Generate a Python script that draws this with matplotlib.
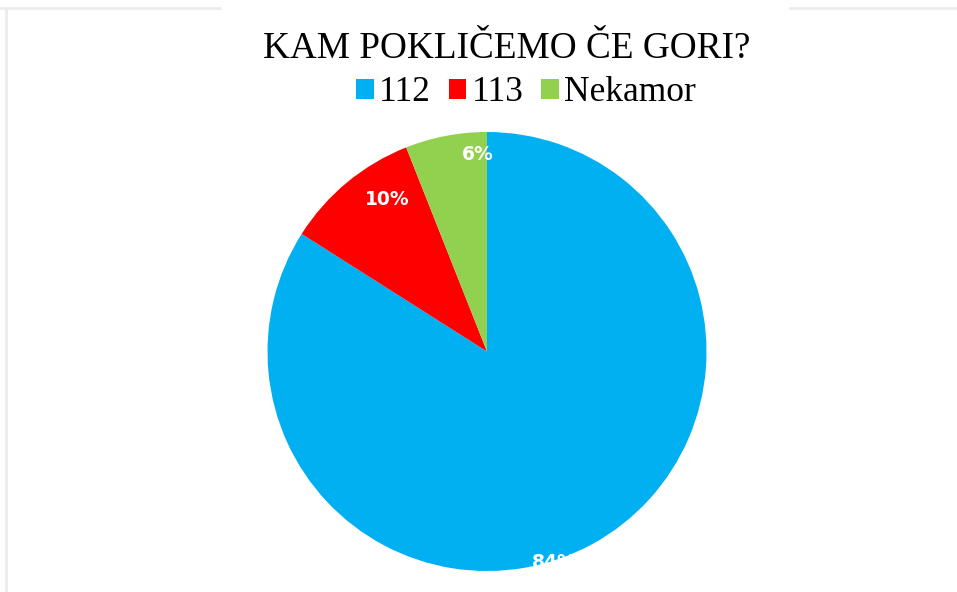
#!/usr/bin/env python3

import numpy as np
import matplotlib
matplotlib.use("Agg")
import matplotlib.pyplot as plt
from matplotlib.patches import Patch
from matplotlib.lines import Line2D

TITLE = "KAM POKLIČEMO ČE GORI?"
labels = ["112", "113", "Nekamor"]
shares = [84, 10, 6]
colors = ["#00B0F0", "#FF0000", "#92D050"]

# where Excel put the "inside end" labels (angle in deg, radius as fraction)
label_angle = [-72.4, 123.2, 92.6]
label_radius = [1.01, 0.83, 0.90]

W, H = 957, 592


def px_rect(x0, y0, x1, y1):
    # pixel box (top-left origin) -> figure fraction
    return [x0 / W, 1 - y1 / H, (x1 - x0) / W, (y1 - y0) / H]


def main():
    fig = plt.figure(figsize=(W / 100, H / 100), dpi=100)
    fig.patch.set_facecolor("white")

    # faint frame of the screenshot
    grey = "#ECECEC"
    fig.add_artist(Line2D([0, 220 / W], [1 - 8 / H, 1 - 8 / H], color=grey, lw=2, transform=fig.transFigure))
    fig.add_artist(Line2D([790 / W, 1], [1 - 8 / H, 1 - 8 / H], color=grey, lw=2, transform=fig.transFigure))
    fig.add_artist(Line2D([6 / W, 6 / W], [0, 1 - 8 / H], color=grey, lw=2, transform=fig.transFigure))

    ax = fig.add_axes(px_rect(267.5, 132, 706.5, 571))
    wedges, _ = ax.pie(shares, colors=colors, startangle=90, counterclock=False,
                       radius=1, wedgeprops=dict(linewidth=0))
    ax.set_xlim(-1, 1)
    ax.set_ylim(-1, 1)
    ax.set_aspect("equal")
    ax.axis("off")

    for w, s, a, r in zip(wedges, shares, label_angle, label_radius):
        t = ax.text(r * np.cos(np.radians(a)), r * np.sin(np.radians(a)), f"{s}%",
                    ha="center", va="center", color="white", fontsize=13.5,
                    fontweight="bold", family="DejaVu Sans")
        t.set_clip_path(w)

    fig.text(507 / W, 1 - 49 / H, TITLE, ha="center", va="center",
             fontsize=26.8, family="Liberation Serif", color="black")

    handles = [Patch(facecolor=c, edgecolor="none") for c in colors]
    fig.legend(handles, labels, loc="center", bbox_to_anchor=(526 / W, 1 - 93 / H),
               ncol=3, frameon=False, handlelength=0.5, handleheight=0.5,
               handletextpad=0.15, columnspacing=0.5,
               prop=dict(family="Liberation Serif", size=25.5))

    fig.savefig("out.png", dpi=100, facecolor="white")


if __name__ == "__main__":
    main()
